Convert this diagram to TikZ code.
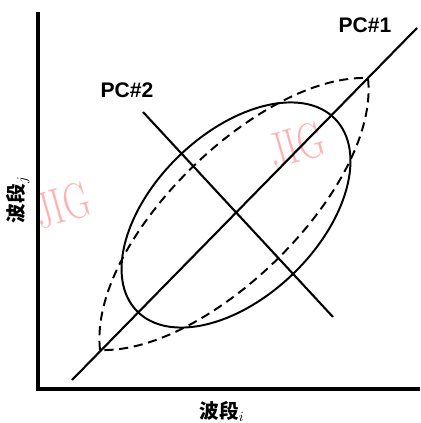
\documentclass[tikz,border=0pt]{standalone}
\usepackage{fontspec}
\setsansfont{Liberation Sans}
\newfontfamily\cjk{Noto Sans CJK SC}

\tikzset{
  axis/.style={line width=2.6pt, line join=miter},
  pcline/.style={line width=1.5pt},
  envelope/.style={line width=1.4pt},
  spread/.style={line width=1.4pt, dash pattern=on 6.5pt off 4pt},
  pclabel/.style={font=\sffamily\bfseries\fontsize{15}{18}\selectfont},
  bandlabel/.style={font=\cjk\bfseries\fontsize{14}{16}\selectfont},
  stamp/.style={text=red!30, font=\rmfamily\fontsize{36}{40}\selectfont,
    rotate=16, xscale=0.72}
}

\begin{document}
\begin{tikzpicture}
    \useasboundingbox (0,0) rectangle (10.5,10.575);

    % Watermarks
    \node[stamp] (wm1) at (1.55,5.45) {JIG};
    \node[stamp] (wm2) at (7.4,6.95) {JIG};

    % Axes
    \coordinate (origin) at (0.95,0.85);
    \coordinate (ytop) at (0.95,10.275);
    \coordinate (xend) at (10.5,0.85);
    \draw[axis] (ytop) -- (origin) -- (xend);
    \node[bandlabel] (xlab) at (5.55,0.3) {波段$_i$};
    \node[bandlabel, rotate=90] (ylab) at (0.45,5.575) {波段$_j$};

    % Dashed spread of the data
    \coordinate (tipA) at (2.5,1.825);
    \coordinate (tipB) at (9.2,8.625);
    \draw[spread] (tipA) .. controls +(-0.3,2.75) and +(-2.75,0.1) .. (tipB)
                         .. controls +(0.3,-2.75) and +(2.75,-0.1) .. (tipA);

    % Solid ellipse
    \draw[envelope] (5.9,5.2) ellipse[x radius=3.45, y radius=2.05, rotate=44];

    % Principal components
    \coordinate (pc1a) at (1.8,1.075);
    \coordinate (pc1b) at (10.425,9.875);
    \coordinate (pc2a) at (3.575,7.775);
    \coordinate (pc2b) at (8.325,2.65);
    \draw[pcline] (pc1a) -- (pc1b);
    \draw[pcline] (pc2a) -- (pc2b);
    \node[pclabel] (pc1) at (9.125,9.95) {PC\#1};
    \node[pclabel] (pc2) at (3.175,8.325) {PC\#2};
\end{tikzpicture}
\end{document}
